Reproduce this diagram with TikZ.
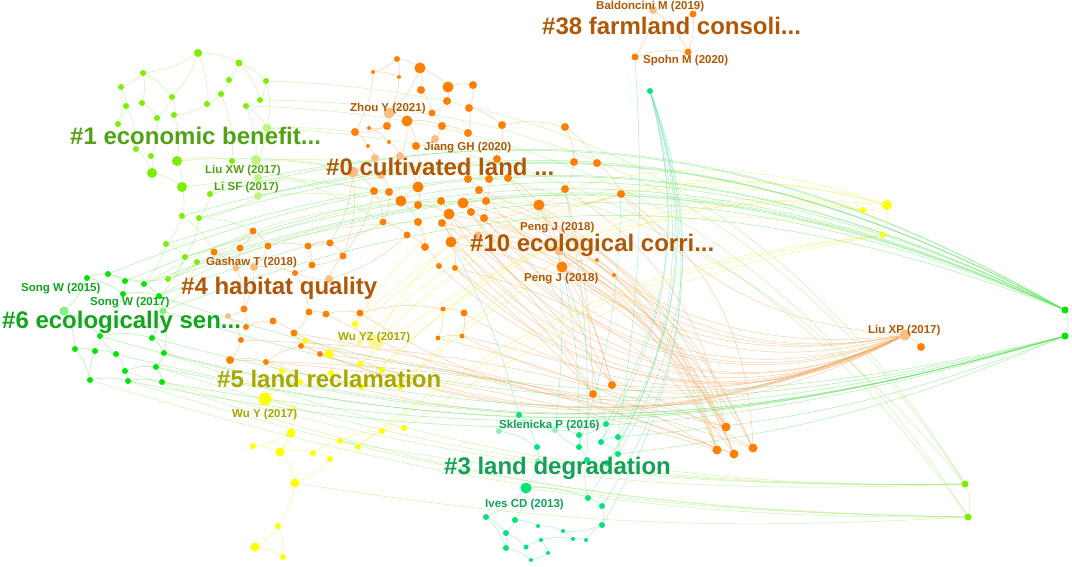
\documentclass[tikz,border=0pt]{standalone}
\usepackage{fontspec}
\setmainfont{Liberation Sans}
\pgfdeclarelayer{bgwhite}
\pgfdeclarelayer{edges}
\pgfsetlayers{bgwhite,edges,main}
\definecolor{corange}{RGB}{255,127,0}
\definecolor{corangeL}{RGB}{250,190,130}
\definecolor{clg}{RGB}{125,238,0}
\definecolor{clgL}{RGB}{190,245,130}
\definecolor{cgreen}{RGB}{0,228,0}
\definecolor{cgreenL}{RGB}{130,240,130}
\definecolor{cyel}{RGB}{255,255,0}
\definecolor{cyelL}{RGB}{250,245,150}
\definecolor{cteal}{RGB}{0,228,120}
\definecolor{ctealL}{RGB}{140,240,190}
\definecolor{tOrange}{RGB}{176,88,8}
\definecolor{tLg}{RGB}{82,162,22}
\definecolor{tGreen}{RGB}{18,165,30}
\definecolor{tYel}{RGB}{168,168,0}
\definecolor{tTeal}{RGB}{20,160,90}
\definecolor{lOrange}{RGB}{246,170,100}
\definecolor{lGreen}{RGB}{90,225,90}
\definecolor{lLg}{RGB}{160,232,100}
\definecolor{lYel}{RGB}{245,240,80}
\definecolor{lTeal}{RGB}{90,225,165}
\tikzset{
  dotbase/.style={circle,inner sep=0pt,draw=none},
  oline/.style={draw=lOrange,line width=0.5pt,opacity=0.55},
  gline/.style={draw=lGreen,line width=0.5pt,opacity=0.5},
  lgline/.style={draw=lLg,line width=0.5pt,opacity=0.5},
  yline/.style={draw=lYel,line width=0.5pt,opacity=0.6},
  tline/.style={draw=lTeal,line width=0.5pt,opacity=0.5},
  biglab/.style={anchor=west,inner sep=0pt,font=\fontsize{24}{24}\selectfont\bfseries},
  smalllab/.style={anchor=west,inner sep=0pt,font=\fontsize{11.5}{12}\selectfont\bfseries}
}
\begin{document}
\begin{tikzpicture}[x=1pt,y=-1pt]
\useasboundingbox (0,0) rectangle (1072,567);
\begin{pgfonlayer}{bgwhite}
\fill[white] (0,0) rectangle (1072,567);
\end{pgfonlayer}
% ---------- nodes: cluster #1 (light green)
\foreach \n/\x/\y/\s/\c in {
 g1/198/53/8/clg, g2/239/63/7/clg, g3/143/73/6/clg, g4/229/80/6/clg, g5/266/81/6/clg,
 g6/121/87/6/clg, g7/221/94/6/clg, g8/260/100/6/clg, g9/172/97/6/clg, g10/142/103/6/clg,
 g11/126/106/6/clg, g12/207/104/6/clg, g13/246/106/6/clg, g14/157/118/6/clg, g15/174/115/6/clg,
 g16/118/124/6/clg, g17/267/128/9/clgL, g18/136/149/6/clg, g19/151/156/6/clg, g20/177/161/10/clg,
 g21/232/161/6/clg, g22/256/160/10/clgL, g23/152/173/10/clg, g24/258/178/8/clgL, g25/182/187/10/clg,
 g26/210/194/6/clg, g27/258/196/8/clgL, g28/182/216/6/clg, g29/199/218/6/clg, g30/166/244/6/clg,
 g31/185/257/6/clg, g32/197/262/6/clg, g33/168/279/6/clg}
 \node[dotbase,fill=\c,minimum size=\s pt] (\n) at (\x,\y) {};
% cluster #6 (green)
\foreach \n/\x/\y/\s/\c in {
 k1/87/278/6/cgreen, k2/108/274/6/cgreen, k3/125/281/6/cgreen, k4/144/284/6/cgreen, k5/123/294/6/cgreen,
 k6/159/296/6/cgreen, k7/64/311/9/cgreenL, k8/100/336/6/cgreen, k9/152/338/6/cgreen, k10/75/349/6/cgreen,
 k11/95/351/6/cgreen, k12/116/354/6/cgreen, k13/164/353/6/cgreen, k14/156/367/6/cgreen, k15/125/371/6/cgreen,
 k16/90/380/6/cgreen, k17/128/381/6/cgreen, k18/162/382/6/cgreen, k19/163/311/7/cgreenL,
 R1/1065/310/7/cgreen, R2/1065/336/7/cgreen}
 \node[dotbase,fill=\c,minimum size=\s pt] (\n) at (\x,\y) {};
\foreach \n/\x/\y/\s/\c in {R3/965/484/7/clg, R4/968/517/7/clg}
 \node[dotbase,fill=\c,minimum size=\s pt] (\n) at (\x,\y) {};
% cluster #4 (orange)
\foreach \n/\x/\y/\s/\c in {
 h1/253/231/7/corange, h2/214/252/7/corange, h3/240/248/7/corange, h4/268/246/7/corange, h5/308/246/7/corange,
 h6/330/243/7/corange, h7/343/256/7/corange, h8/312/265/7/corange, h9/254/267/8/corangeL, h10/236/268/7/corangeL,
 h11/329/279/8/corangeL, h12/295/273/6/corange, h13/244/309/7/corange, h14/228/316/6/corangeL, h15/246/327/6/corange,
 h16/273/321/7/corange, h17/309/312/7/corange, h18/326/314/7/corange, h19/360/313/7/corange, h20/294/333/7/corange,
 h21/241/340/6/corange, h22/301/346/6/corange, h23/320/354/6/corange, h24/230/360/8/corange, h25/266/362/6/corange,
 h26/443/309/5/corange, h27/464/313/7/corange, h28/438/338/5/corange, h29/462/336/5/corange}
 \node[dotbase,fill=\c,minimum size=\s pt] (\n) at (\x,\y) {};
% cluster #0 / #10 (orange)
\foreach \n/\x/\y/\s/\c in {
 o1/397/59/6/corange, o2/420/68/11/corange, o3/373/72/4/corange, o4/399/77/4/corange, o5/448/87/11/corange,
 o6/473/85/8/corange, o7/421/90/8/corange, o8/447/101/8/corange, o9/469/108/8/corange, o10/432/113/7/corange,
 o11/389/113/11/corangeL, o12/407/121/11/corange, o13/387/126/8/corange, o14/442/126/8/corange, o15/502/125/8/corange,
 o16/355/132/8/corange, o17/369/128/4/corange, o18/468/133/8/corange, o19/435/139/8/corangeL, o20/389/142/4/corange,
 o21/368/146/4/corange, o22/416/146/8/corange, o23/375/158/8/corangeL, o24/400/156/8/corangeL, o25/497/159/8/corange,
 o26/353/172/11/corangeL, o27/381/175/8/corangeL, o28/468/179/8/corange, o29/489/179/8/corange, o30/508/178/8/corange,
 o31/418/187/11/corange, o32/374/191/8/corange, o33/389/192/8/corange, o34/479/190/8/corange, o35/401/201/11/corange,
 o36/418/205/8/corange, o37/441/201/8/corange, o38/463/203/11/corange, o39/486/201/8/corange, o40/539/205/11/corange,
 o41/449/214/11/corange, o42/471/212/8/corange, o43/484/218/8/corange, o44/383/222/7/corange, o45/418/222/8/corange,
 o46/442/223/8/corange, o47/407/235/7/corange, o48/451/242/11/corange, o49/425/247/8/corange, o50/439/266/6/corange,
 o51/455/268/6/corange, o52/565/127/8/corange, o53/574/162/8/corange, o54/597/163/8/corange, o55/565/189/8/corange,
 o56/621/194/8/corange, o58/559/251/9/corangeL, o59/562/267/11/corange, o60/597/260/4/corange, o61/614/275/4/corange,
 o62/478/236/9/corangeL}
 \node[dotbase,fill=\c,minimum size=\s pt] (\n) at (\x,\y) {};
% #38, lower orange, Liu XP
\foreach \n/\x/\y/\s/\c in {
 b1/653/10/8/corangeL, b2/693/14/7/corange, b3/635/57/7/corange, b4/688/52/7/corange,
 d1/593/394/8/corange, d2/612/385/8/corange, d3/726/427/9/corange, d4/717/450/9/corange,
 d5/734/454/9/corange, d6/753/448/9/corange, L1/905/335/11/corangeL, L2/921/347/8/corange}
 \node[dotbase,fill=\c,minimum size=\s pt] (\n) at (\x,\y) {};
% cluster #5 (yellow)
\foreach \n/\x/\y/\s/\c in {
 y1/355/324/6/cyel, y2/305/341/6/cyel, y3/329/354/9/cyel, y4/376/342/15/cyelL, y5/360/342/6/cyelL,
 y6/360/364/6/cyel, y7/382/370/6/cyel, y8/331/373/6/cyel, y9/282/371/6/cyel, y10/300/382/6/cyel,
 y11/361/387/6/cyel, y12/400/387/6/cyel, y13/265/399/13/cyel, y14/294/408/6/cyelL, y15/291/433/9/cyel,
 y16/253/446/6/cyel, y17/280/452/9/cyel, y18/313/453/6/cyel, y19/340/441/6/cyel, y20/358/447/6/cyel,
 y21/330/459/6/cyel, y22/382/431/6/cyel, y23/404/428/6/cyel, y24/295/483/9/cyel, y25/278/526/6/cyel,
 y26/255/547/9/cyel, y27/283/557/6/cyel, yr1/887/205/10/cyel, yr2/863/210/6/cyel, yr3/883/235/6/cyel}
 \node[dotbase,fill=\c,minimum size=\s pt] (\n) at (\x,\y) {};
% cluster #3 (teal)
\foreach \n/\x/\y/\s/\c in {
 t1/519/415/6/cteal, t2/499/431/6/ctealL, t3/555/430/6/ctealL, t4/606/424/6/cteal, t5/579/435/6/cteal,
 t6/601/442/6/cteal, t7/618/437/6/cteal, t8/537/447/6/cteal, t9/579/447/6/cteal, t10/618/454/6/cteal,
 t11/538/461/6/ctealL, t12/587/460/6/cteal, t13/607/463/6/cteal, t14/526/488/11/cteal, t15/588/498/6/cteal,
 t16/602/506/6/cteal, t17/486/517/6/cteal, t18/515/520/6/cteal, t19/602/525/6/cteal, t20/538/526/4/cteal,
 t21/563/531/4/cteal, t22/506/533/6/cteal, t23/526/547/5/cteal, t24/541/540/4/cteal, t25/573/539/4/cteal,
 t26/586/540/4/cteal, t27/506/548/6/cteal, t28/548/553/4/cteal, t29/531/560/4/cteal, T0/650/91/6/cteal}
 \node[dotbase,fill=\c,minimum size=\s pt] (\n) at (\x,\y) {};

% ---------- edges
\begin{pgfonlayer}{edges}
% #1 internal
\foreach \a/\b in {g1/g2,g1/g9,g1/g12,g2/g4,g2/g5,g3/g6,g3/g10,g3/g9,g4/g7,g5/g8,g6/g11,g7/g12,g8/g13,g9/g15,
 g10/g14,g11/g16,g12/g15,g13/g17,g14/g19,g15/g20,g16/g18,g17/g22,g18/g23,g19/g23,g20/g25,g21/g22,g22/g24,
 g23/g25,g24/g27,g25/g28,g26/g29,g27/g29,g28/g30,g29/g31,g30/g31,g31/g33,g32/g33,g21/g26,g7/g21,g5/g17,
 g6/g16,g1/g3,g13/g22,g20/g21,g30/k4,g31/k6,g33/k2,g32/k19,g28/h2,g29/h1,g2/g8,g9/g14,g11/g18}
 \draw[lgline] (\a) to[bend left=12] (\b);
% #6 internal
\foreach \a/\b in {k1/k2,k2/k3,k3/k4,k1/k5,k3/k5,k4/k6,k5/k6,k1/k7,k7/k8,k7/k10,k8/k11,k10/k11,k11/k12,k8/k9,
 k9/k13,k12/k15,k13/k14,k14/k18,k15/k17,k16/k17,k10/k16,k17/k18,k6/k9,k19/k9,k19/k13,k12/k8,k15/k14,k16/k11,k5/k8,k6/k19}
 \draw[gline] (\a) to[bend left=12] (\b);
% #4 internal
\foreach \a/\b in {h1/h2,h1/h3,h1/h4,h2/h10,h3/h10,h4/h5,h4/h9,h5/h6,h6/h7,h5/h8,h7/h8,h8/h12,h9/h12,h11/h12,
 h11/h7,h13/h14,h13/h15,h14/h21,h15/h16,h16/h20,h17/h18,h18/h19,h17/h20,h20/h22,h22/h23,h21/h24,h24/h25,
 h25/h22,h12/h17,h9/h13,h26/h28,h27/h29,h26/h27,h19/h26,h28/h29,h10/h13}
 \draw[oline] (\a) to[bend left=12] (\b);
% #0 internal
\foreach \a/\b in {o1/o2,o1/o3,o1/o4,o2/o5,o2/o7,o3/o4,o4/o11,o5/o6,o5/o8,o6/o9,o7/o10,o8/o10,o9/o18,o10/o14,
 o11/o12,o11/o13,o12/o22,o13/o17,o13/o16,o14/o18,o14/o19,o15/o25,o16/o21,o17/o20,o19/o22,o20/o24,o21/o23,
 o22/o31,o23/o26,o24/o27,o25/o30,o26/o32,o27/o33,o28/o34,o29/o39,o30/o40,o31/o36,o32/o44,o33/o35,o34/o38,
 o35/o45,o36/o41,o37/o41,o38/o42,o39/o43,o40/o43,o41/o48,o44/o47,o45/o49,o46/o48,o47/o49,o49/o50,o48/o51,
 o52/o53,o52/o54,o53/o55,o54/o56,o55/o40,o56/o40,o58/o59,o59/o60,o60/o61,o15/o52,o9/o15,o2/o11,o18/o28,
 o28/o29,o12/o24,o35/o31,o26/h6,o32/h7,o44/h5,o47/h11,o26/h7,o48/o62,o62/o58,o3/o16,o12/o14,o24/o31,o33/o44,
 b1/b3,b2/b4,b1/b4,b3/b4}
 \draw[oline] (\a) to[bend left=12] (\b);
% #5 internal
\foreach \a/\b in {y1/y5,y5/y4,y4/y6,y2/y3,y3/y8,y3/y5,y6/y7,y8/y9,y9/y10,y10/y11,y6/y11,y11/y12,y7/y12,
 y13/y14,y13/y10,y14/y15,y15/y16,y15/y17,y17/y18,y18/y19,y19/y20,y18/y21,y17/y24,y21/y24,y24/y25,y25/y26,
 y26/y27,y25/y27,y20/y22,y22/y23,y16/y17,y14/y17,y12/y23,y19/y22,yr1/yr2,yr1/yr3,yr2/yr3,y2/h22,y9/h25}
 \draw[yline] (\a) to[bend left=12] (\b);
% #3 internal
\foreach \a/\b in {t1/t2,t1/t8,t2/t8,t3/t5,t4/t5,t4/t6,t5/t9,t6/t7,t6/t10,t7/t10,t9/t12,t10/t13,t12/t13,t8/t11,
 t11/t14,t14/t18,t14/t17,t14/t15,t15/t16,t16/t19,t17/t22,t18/t20,t20/t21,t22/t23,t22/t27,t23/t24,t24/t25,
 t25/t26,t26/t19,t27/t29,t28/t29,t24/t28,t21/t25,t15/t12,t19/t21,t18/t22,t17/t27,t9/t3,t3/t1}
 \draw[tline] (\a) to[bend left=12] (\b);
% long bundles
\foreach \s/\k in {o38/38,o40/30,o41/40,o42/36,o43/34,o48/40,o51/36,o59/26,o58/24,o62/38,h27/28,h29/26,
 h19/30,o46/40,o34/30,o30/28,o56/22,h20/24,h22/22,h23/22,d2/14,o50/34,h25/20,h18/26}
 \draw[oline] (\s) to[bend right=\k] (L1);
\draw[oline] (L1) to[bend left=10] (L2);
\foreach \s/\t/\k in {o41/d3/25,o48/d3/22,o40/d4/20,o59/d5/18,o56/d6/25,o55/d3/22,o43/d4/24,o38/d5/26,
 o46/d6/24,o62/d3/20,o58/d4/15,o51/d5/20,o34/d6/22,o39/d3/26,o42/d5/24,o60/d6/14,o61/d4/12,
 h24/d3/6,h25/d4/6,h22/d5/6,h23/d6/6,h21/d3/8,h20/d5/5,h28/d4/8,h29/d6/8,
 o41/d1/10,o48/d1/8,o59/d2/8,o46/d2/10,o38/d2/12,o51/d1/6,o40/d2/6,o55/d1/6}
 \draw[oline] (\s) to[bend left=\k] (\t);
\foreach \t/\k in {t4/22,t7/24,t10/26,t13/24,t16/26,t19/24,t6/22,t15/24}
 \draw[tline] (T0) to[bend left=\k] (\t);
\foreach \s/\t/\k in {t5/o59/6,t9/o56/8,t12/o55/6,t4/o40/4,t1/o48/6,t3/o58/5,t7/b3/6}
 \draw[tline] (\s) to[bend right=\k] (\t);
\foreach \s/\t/\k in {y4/yr1/30,y1/yr1/32,y5/yr2/30,y3/yr1/30,y7/yr2/28,y12/yr1/26,y6/yr3/26,y11/yr2/26,
 y22/yr3/14,y23/yr3/12,y20/yr3/16,y4/o48/10,y1/o46/8,y12/o59/6}
 \draw[yline] (\s) to[bend left=\k] (\t);
\foreach \s/\k in {k2/24,k3/24,k4/22,k6/22,g30/22,g31/21,g32/21,g33/22,k19/21,g26/22,g29/22,g28/22,g24/20,g27/20}
 \draw[gline] (\s) to[bend left=\k] (R1);
\foreach \s/\k in {k9/15,k13/15,k14/14,k18/13,k12/15,k17/14,k6/16,k19/16,k8/16,t7/8,t10/8}
 \draw[gline] (\s) to[bend right=\k] (R2);
\draw[gline] (R1) to[bend left=20] (R2);
\foreach \s/\t/\k in {k14/R3/9,k18/R3/8,k17/R4/8,k15/R4/9,k13/R3/10,k16/R4/8,t14/R4/4,t13/R3/4,y24/R4/6,y19/R3/6}
 \draw[lgline] (\s) to[bend right=\k] (\t);
\foreach \s/\t/\k in {g5/R3/28,g8/R3/28,g13/R4/28,g17/R4/26,g22/R3/26}
 \draw[lgline] (\s) to[bend left=\k] (\t);
\draw[lgline] (R3) to[bend left=15] (R4);
\foreach \s/\t/\k in {g22/o26/6,g24/o32/6,g27/o35/6,g17/o16/4,g21/o44/8,g25/o33/8,g20/o27/8,k4/o37/14,k6/o45/14,g33/o40/16}
 \draw[lgline] (\s) to[bend left=\k] (\t);
\end{pgfonlayer}

% ---------- labels
\node[biglab,text=tOrange] (lab38) at (542,26) {\#38 farmland consoli...};
\node[smalllab,text=tOrange] (labBal) at (596,7) {Baldoncini M (2019)};
\node[smalllab,text=tOrange] (labSp) at (643,61) {Spohn M (2020)};
\node[biglab,text=tLg] (lab1) at (70,136) {\#1 economic benefit...};
\node[smalllab,text=tOrange] (labZh) at (350,109) {Zhou Y (2021)};
\node[smalllab,text=tOrange] (labJi) at (424,148) {Jiang GH (2020)};
\node[biglab,text=tOrange] (lab0) at (326,167) {\#0 cultivated land ...};
\node[smalllab,text=tLg] (labLXW) at (205,171) {Liu XW (2017)};
\node[smalllab,text=tLg] (labLSF) at (214,188) {Li SF (2017)};
\node[biglab,text=tOrange] (lab10) at (470,245) {\#10 ecological corri...};
\node[smalllab,text=tOrange] (labPJa) at (520,228) {Peng J (2018)};
\node[smalllab,text=tOrange] (labPJb) at (524,279) {Peng J (2018)};
\node[smalllab,text=tOrange] (labGa) at (206,263) {Gashaw T (2018)};
\node[biglab,text=tOrange] (lab4) at (181,288) {\#4 habitat quality};
\node[smalllab,text=tGreen] (labSW15) at (21,289) {Song W (2015)};
\node[smalllab,text=tGreen] (labSW17) at (90,303) {Song W (2017)};
\node[biglab,text=tGreen] (lab6) at (2,322) {\#6 ecologically sen...};
\node[smalllab,text=tYel] (labWYZ) at (338,338) {Wu YZ (2017)};
\node[biglab,text=tYel] (lab5) at (217,379) {\#5 land reclamation};
\node[smalllab,text=tYel] (labWY) at (232,415) {Wu Y (2017)};
\node[smalllab,text=tTeal] (labSk) at (499,426) {Sklenicka P (2016)};
\node[biglab,text=tTeal] (lab3) at (444,468) {\#3 land degradation};
\node[smalllab,text=tTeal] (labIv) at (485,505) {Ives CD (2013)};
\node[smalllab,text=tOrange] (labLXP) at (868,331) {Liu XP (2017)};
\end{tikzpicture}
\end{document}
